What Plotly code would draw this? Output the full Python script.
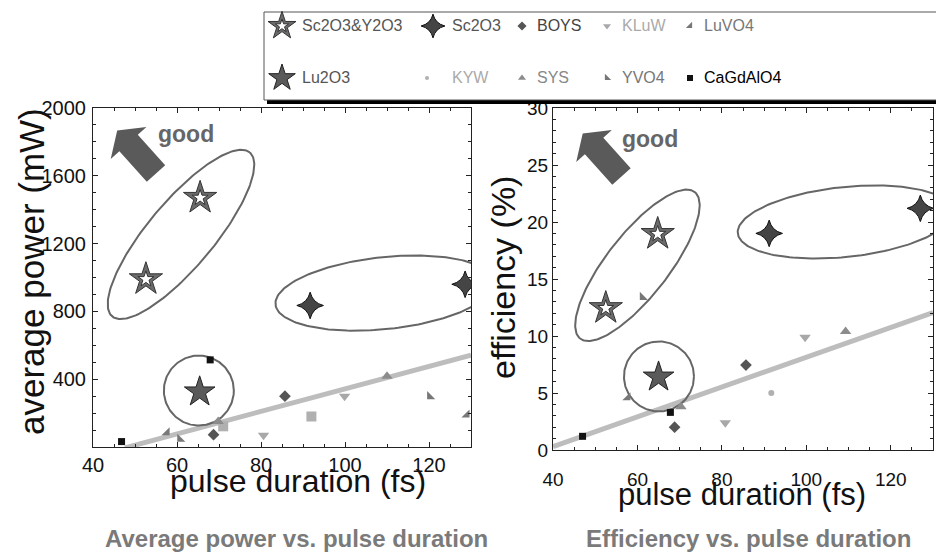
import numpy as np
import plotly.graph_objects as go

W, H = 936, 554
FONT = "Liberation Sans, Arial, sans-serif"

# ---------------- data: average power (mW) vs pulse duration (fs) ----------------
sy_x_p = [52.6, 65.5];   sy_y_p = [990, 1470]        # Sc2O3&Y2O3
sc_x_p = [91.7, 128.6];  sc_y_p = [835, 960]         # Sc2O3
lu_x_p = [65.4];         lu_y_p = [325]              # Lu2O3
boys_x_p = [68.7, 85.7]; boys_y_p = [73, 300]
kluw_x_p = [80.6, 99.9]; kluw_y_p = [70, 300]
luvo_x_p = [57.6, 129.0]; luvo_y_p = [85, 190]
kyw_x_p = [71.0, 92.0];  kyw_y_p = [122, 180]
sys_x_p = [69.8, 110.0]; sys_y_p = [150, 418]
yvo_x_p = [60.7, 120.2]; yvo_y_p = [47, 298]
cga_x_p = [46.8, 67.9];  cga_y_p = [32, 514]
fit_x_p = [47.6, 130.0]; fit_y_p = [-5, 542]

# ---------------- data: efficiency (%) vs pulse duration (fs) ----------------
sy_x_e = [52.5, 64.8];   sy_y_e = [12.45, 18.95]
sc_x_e = [91.2, 127.0];  sc_y_e = [19.0, 21.2]
lu_x_e = [65.0];         lu_y_e = [6.4]
boys_x_e = [68.8, 85.7]; boys_y_e = [2.0, 7.45]
kluw_x_e = [80.8, 99.7]; kluw_y_e = [2.4, 9.9]
luvo_x_e = [57.7];       luvo_y_e = [4.6]
kyw_x_e = [91.7];        kyw_y_e = [5.0]
sys_x_e = [70.3, 109.3]; sys_y_e = [3.8, 10.4]
yvo_x_e = [61.2];        yvo_y_e = [13.4]
cga_x_e = [47.0, 67.8];  cga_y_e = [1.2, 3.3]
fit_x_e = [40, 130];     fit_y_e = [0.3, 12.05]

x_ticks = [40, 60, 80, 100, 120]
p_ticks = [400, 800, 1200, 1600, 2000]
e_ticks = [0, 5, 10, 15, 20, 25, 30]

legend_names = ["Sc2O3&Y2O3", "Sc2O3", "BOYS", "KLuW", "LuVO4",
                "Lu2O3", "KYW", "SYS", "YVO4", "CaGdAlO4"]

# ---------------- layout geometry (pixels) ----------------
L = dict(x0=93, x1=471, y0=108, y1=447)
R = dict(x0=553, x1=933, y0=108, y1=450)
XR = [40, 130]; PR = [0, 2000]; ER = [0, 30]

def dom(b):
    return [b["x0"] / W, b["x1"] / W], [1 - b["y1"] / H, 1 - b["y0"] / H]

Lxd, Lyd = dom(L)
Rxd, Ryd = dom(R)

ST = {
    "BOYS": dict(symbol="diamond", color="#555555", size=9, tc="#444444"),
    "KLuW": dict(symbol="triangle-down", color="#a8a8a8", size=10, tc="#aaaaaa"),
    "LuVO4": dict(symbol="triangle-se", color="#787878", size=9, tc="#777777"),
    "KYW": dict(symbol="circle", color="#b0b0b0", size=6, tc="#aaaaaa"),
    "SYS": dict(symbol="triangle-up", color="#8c8c8c", size=10, tc="#888888"),
    "YVO4": dict(symbol="triangle-sw", color="#777777", size=9, tc="#777777"),
    "CaGdAlO4": dict(symbol="square", color="#111111", size=7, tc="#000000"),
}

fig = go.Figure()

def ellipse(cx, cy, a, b, ang, kx, ky, n=200):
    t = np.linspace(0, 2 * np.pi, n)
    th = np.deg2rad(ang)
    dx = a * np.cos(t) * np.cos(th) - b * np.sin(t) * np.sin(th)
    dy = a * np.cos(t) * np.sin(th) + b * np.sin(t) * np.cos(th)
    return cx + dx / kx, cy + dy / ky

def add_panel(xa, ya, box, yr, d, ells, kyw_sym, kyw_size):
    kx = (box["x1"] - box["x0"]) / (XR[1] - XR[0])
    ky = (box["y1"] - box["y0"]) / (yr[1] - yr[0])
    fig.add_trace(go.Scatter(x=d["fit"][0], y=d["fit"][1], mode="lines", xaxis=xa, yaxis=ya,
                             line=dict(color="#bdbdbd", width=5), showlegend=False, hoverinfo="skip"))
    for (cx, cy, a, b, ang) in ells:
        ex, ey = ellipse(cx, cy, a, b, ang, kx, ky)
        fig.add_trace(go.Scatter(x=ex, y=ey, mode="lines", xaxis=xa, yaxis=ya,
                                 line=dict(color="#666666", width=2), showlegend=False, hoverinfo="skip"))
    for nm in ["BOYS", "KLuW", "LuVO4", "KYW", "SYS", "YVO4", "CaGdAlO4"]:
        s = ST[nm]
        sym, size = s["symbol"], s["size"]
        if nm == "KYW":
            sym, size = kyw_sym, kyw_size
        fig.add_trace(go.Scatter(x=d[nm][0], y=d[nm][1], mode="markers", xaxis=xa, yaxis=ya,
                                 marker=dict(symbol=sym, size=size, color=s["color"], line=dict(width=0)),
                                 showlegend=False, name=nm))
    fig.add_trace(go.Scatter(x=d["Lu2O3"][0], y=d["Lu2O3"][1], mode="markers", xaxis=xa, yaxis=ya,
                             marker=dict(symbol="star", size=23, color="#5a5a5a", line=dict(color="#222", width=1)),
                             showlegend=False, name="Lu2O3"))
    fig.add_trace(go.Scatter(x=d["Sc2O3"][0], y=d["Sc2O3"][1], mode="markers", xaxis=xa, yaxis=ya,
                             marker=dict(symbol="star-diamond", size=19, color="#454545", line=dict(color="#111", width=1)),
                             showlegend=False, name="Sc2O3"))
    fig.add_trace(go.Scatter(x=d["SY"][0], y=d["SY"][1], mode="markers", xaxis=xa, yaxis=ya,
                             marker=dict(symbol="star", size=25, color="#6b6b6b", line=dict(color="#333", width=1)),
                             showlegend=False, name="Sc2O3&Y2O3"))
    fig.add_trace(go.Scatter(x=d["SY"][0], y=d["SY"][1], mode="markers", xaxis=xa, yaxis=ya,
                             marker=dict(symbol="star", size=12, color="white", line=dict(color="#333", width=1)),
                             showlegend=False, hoverinfo="skip"))

dp = {"fit": (fit_x_p, fit_y_p), "SY": (sy_x_p, sy_y_p), "Sc2O3": (sc_x_p, sc_y_p),
      "Lu2O3": (lu_x_p, lu_y_p), "BOYS": (boys_x_p, boys_y_p), "KLuW": (kluw_x_p, kluw_y_p),
      "LuVO4": (luvo_x_p, luvo_y_p), "KYW": (kyw_x_p, kyw_y_p), "SYS": (sys_x_p, sys_y_p),
      "YVO4": (yvo_x_p, yvo_y_p), "CaGdAlO4": (cga_x_p, cga_y_p)}
de = {"fit": (fit_x_e, fit_y_e), "SY": (sy_x_e, sy_y_e), "Sc2O3": (sc_x_e, sc_y_e),
      "Lu2O3": (lu_x_e, lu_y_e), "BOYS": (boys_x_e, boys_y_e), "KLuW": (kluw_x_e, kluw_y_e),
      "LuVO4": (luvo_x_e, luvo_y_e), "KYW": (kyw_x_e, kyw_y_e), "SYS": (sys_x_e, sys_y_e),
      "YVO4": (yvo_x_e, yvo_y_e), "CaGdAlO4": (cga_x_e, cga_y_e)}

# ellipse outlines: center (data), semi-axes (px), angle (deg)
ells_p = [(60.95, 1254, 107, 33, 50), (109.5, 908, 110, 36, 6), (65.2, 333, 35, 35, 0)]
ells_e = [(60.0, 16.2, 93, 31, 52), (109.2, 20.0, 108, 35, 6), (65.1, 6.45, 35, 35, 0)]

add_panel("x", "y", L, PR, dp, ells_p, "square", 10)
add_panel("x2", "y2", R, ER, de, ells_e, "circle", 6)

# ---------------- manual legend on a pixel overlay axis ----------------
col_mx = [282, 433, 522, 607, 690]
col_tx = [300, 450, 535, 620, 702]
row_y = [26, 78]

def leg_marker(nm, x, y):
    if nm == "Sc2O3&Y2O3":
        fig.add_trace(go.Scatter(x=[x], y=[y], mode="markers", xaxis="x3", yaxis="y3",
                                 marker=dict(symbol="star", size=21, color="#6b6b6b", line=dict(color="#333", width=1)),
                                 showlegend=False, hoverinfo="skip"))
        fig.add_trace(go.Scatter(x=[x], y=[y], mode="markers", xaxis="x3", yaxis="y3",
                                 marker=dict(symbol="star", size=10, color="white", line=dict(color="#333", width=1)),
                                 showlegend=False, hoverinfo="skip"))
        return "#555555"
    if nm == "Sc2O3":
        mk = dict(symbol="star-diamond", size=17, color="#454545", line=dict(color="#111", width=1)); tc = "#555555"
    elif nm == "Lu2O3":
        mk = dict(symbol="star", size=20, color="#5a5a5a", line=dict(color="#222", width=1)); tc = "#555555"
    else:
        s = ST[nm]
        sz = {"KYW": 4, "CaGdAlO4": 6}.get(nm, 7)
        mk = dict(symbol=s["symbol"], size=sz, color=s["color"], line=dict(width=0)); tc = s["tc"]
    fig.add_trace(go.Scatter(x=[x], y=[y], mode="markers", xaxis="x3", yaxis="y3", marker=mk,
                             showlegend=False, hoverinfo="skip"))
    return tc

annotations = []
for i, nm in enumerate(legend_names):
    r, c = divmod(i, 5)
    mx = col_mx[c] - (6 if (r == 1 and c == 1) else 0)
    tc = leg_marker(nm, mx, row_y[r])
    annotations.append(dict(x=col_tx[c], y=row_y[r] - 1, xref="x3", yref="y3", text=nm, showarrow=False,
                            xanchor="left", yanchor="middle", font=dict(size=16, color=tc, family=FONT)))

shapes = [
    dict(type="rect", xref="x3", yref="y3", x0=267, x1=945, y0=99, y1=104, fillcolor="#000", line=dict(width=0), layer="below"),
    dict(type="rect", xref="x3", yref="y3", x0=264, x1=945, y0=12, y1=100, fillcolor="white",
         line=dict(color="#555", width=1), layer="below"),
]

def arrow_path(tx, ty, ang_deg, shaft_len, shaft_hw, head_len, head_hw):
    th = np.deg2rad(ang_deg)
    ux, uy = -np.cos(th), -np.sin(th)
    px_, py_ = -uy, ux
    bx, by = tx + ux * shaft_len, ty + uy * shaft_len
    pts = [(tx + px_ * shaft_hw, ty + py_ * shaft_hw), (bx + px_ * shaft_hw, by + py_ * shaft_hw),
           (bx + px_ * head_hw, by + py_ * head_hw), (bx + ux * head_len, by + uy * head_len),
           (bx - px_ * head_hw, by - py_ * head_hw), (bx - px_ * shaft_hw, by - py_ * shaft_hw),
           (tx - px_ * shaft_hw, ty - py_ * shaft_hw)]
    return "M " + " L ".join(f"{x:.1f},{y:.1f}" for x, y in pts) + " Z"

for (tx, ty) in [(156, 173.5), (621.5, 176.5)]:
    shapes.append(dict(type="path", xref="x3", yref="y3", path=arrow_path(tx, ty, 48, 41, 12.4, 17, 24),
                       fillcolor="#5a5a5a", line=dict(width=0)))

for (gx, gy) in [(186, 134), (650, 139)]:
    annotations.append(dict(x=gx, y=gy, xref="x3", yref="y3", text="<b>good</b>", showarrow=False,
                            font=dict(size=23, color="#666666", family=FONT)))

annotations += [
    dict(x=31, y=272, xref="x3", yref="y3", text="average power (mW)", textangle=-90, showarrow=False,
         font=dict(size=35, color="#111", family=FONT)),
    dict(x=503, y=278, xref="x3", yref="y3", text="efficiency (%)", textangle=-90, showarrow=False,
         font=dict(size=34, color="#111", family=FONT)),
    dict(x=298, y=481, xref="x3", yref="y3", text="pulse duration (fs)", showarrow=False,
         font=dict(size=32, color="#111", family=FONT)),
    dict(x=742, y=494, xref="x3", yref="y3", text="pulse duration (fs)", showarrow=False,
         font=dict(size=31, color="#111", family=FONT)),
    dict(x=296, y=538, xref="x3", yref="y3", text="<b>Average power vs. pulse duration</b>", showarrow=False,
         font=dict(size=24, color="#7a7a7a", family=FONT)),
    dict(x=748, y=538, xref="x3", yref="y3", text="<b>Efficiency vs. pulse duration</b>", showarrow=False,
         font=dict(size=24, color="#7a7a7a", family=FONT)),
]

ax = dict(showline=True, linecolor="#222", linewidth=1, mirror="ticks", ticks="inside", ticklen=5,
          tickcolor="#222", showgrid=False, zeroline=False, automargin=False,
          tickfont=dict(size=20, color="#111", family=FONT))

fig.update_layout(
    template="none",
    width=W, height=H, margin=dict(l=0, r=0, t=0, b=0, pad=0, autoexpand=False),
    font=dict(family=FONT),
    paper_bgcolor="white", plot_bgcolor="rgba(0,0,0,0)", showlegend=False,
    xaxis=dict(ax, domain=Lxd, range=XR, tickvals=x_ticks, anchor="y",
               minor=dict(ticks="inside", ticklen=3, tickcolor="#222", dtick=5, tick0=40)),
    yaxis=dict(ax, domain=Lyd, range=PR, tickvals=p_ticks, anchor="x", ticklabelstandoff=2,
               minor=dict(ticks="inside", ticklen=3, tickcolor="#222", dtick=100, tick0=0)),
    xaxis2=dict(ax, domain=Rxd, range=XR, tickvals=x_ticks, anchor="y2", ticklabelstandoff=12,
                tickfont=dict(size=19, color="#111", family=FONT),
                minor=dict(ticks="inside", ticklen=3, tickcolor="#222", dtick=5, tick0=40)),
    yaxis2=dict(ax, domain=Ryd, range=ER, tickvals=e_ticks, anchor="x2",
                tickfont=dict(size=19, color="#111", family=FONT),
                minor=dict(ticks="inside", ticklen=3, tickcolor="#222", dtick=1, tick0=0)),
    xaxis3=dict(domain=[0, 1], range=[0, W], visible=False, anchor="y3", fixedrange=True, automargin=False),
    yaxis3=dict(domain=[0, 1], range=[H, 0], visible=False, anchor="x3", fixedrange=True, automargin=False),
    shapes=shapes, annotations=annotations,
)

fig.write_html("out.html", config={"displayModeBar": False},
               post_script="document.body.style.margin='0';")
